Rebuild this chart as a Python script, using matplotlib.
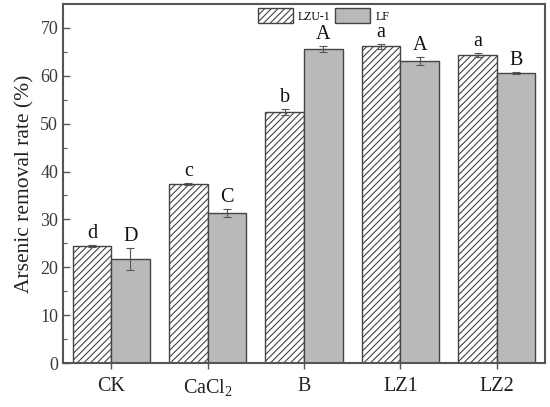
import numpy as np
import matplotlib
matplotlib.use("Agg")
import matplotlib.pyplot as plt

plt.rcParams['font.family'] = ['Liberation Serif', 'DejaVu Serif']
plt.rcParams['mathtext.fontset'] = 'custom'
plt.rcParams['mathtext.rm'] = 'Liberation Serif'
plt.rcParams['mathtext.it'] = 'Liberation Serif:italic'
plt.rcParams['hatch.color'] = '#555555'
plt.rcParams['hatch.linewidth'] = 0.8

# data
groups = ['CK', 'CaCl$_\\mathrm{2}$', 'B', 'LZ1', 'LZ2']
lzu1 = [24.4, 37.3, 52.5, 66.2, 64.3]
lzu1_err = [0.2, 0.2, 0.6, 0.5, 0.45]
lf = [21.7, 31.4, 65.6, 63.1, 60.6]
lf_err = [2.3, 0.8, 0.7, 0.9, 0.15]
lzu1_letters = ['d', 'c', 'b', 'a', 'a']
lf_letters = ['D', 'C', 'A', 'A', 'B']

x = np.arange(1, len(groups) + 1)
w = 0.4
edge = '#444444'

fig = plt.figure(figsize=(5.5, 4.07), dpi=100)
ax = fig.add_axes([63/550, 1-363/407, 482/550, 359/407])

ax.bar(x - w/2, lzu1, w, color='white', edgecolor=edge, linewidth=1.0,
       hatch='/////', label='LZU-1')
ax.bar(x + w/2, lf, w, color='#b9b9b9', edgecolor=edge, linewidth=1.0,
       label='LF')
ax.errorbar(x - w/2, lzu1, yerr=lzu1_err, fmt='none', ecolor='#555555',
            elinewidth=0.8, capsize=3, capthick=0.8)
ax.errorbar(x + w/2, lf, yerr=lf_err, fmt='none', ecolor='#555555',
            elinewidth=0.8, capsize=3, capthick=0.8)

for xi, v, e, t in zip(x - w/2, lzu1, lzu1_err, lzu1_letters):
    ax.annotate(t, (xi, v + e), xytext=(0, 1.5), textcoords='offset points',
                ha='center', va='bottom', fontsize=14.5, color='#111111')
for xi, v, e, t in zip(x + w/2, lf, lf_err, lf_letters):
    ax.annotate(t, (xi, v + e), xytext=(0, 1.5), textcoords='offset points',
                ha='center', va='bottom', fontsize=14.5, color='#111111')

ax.set_xlim(0.5, 5.5)
ax.set_ylim(0, 75)
ax.set_xticks(x)
ax.set_xticklabels(groups, fontsize=14.5, color='#222222')
ax.set_yticks(np.arange(0, 71, 10))
ax.set_yticks(np.arange(5, 75, 10), minor=True)
ax.tick_params(axis='y', direction='in', length=5, width=1, labelsize=13,
               labelcolor='#3a3a3a', color='#555555')
ax.tick_params(axis='y', which='minor', direction='in', length=3, width=0.8,
               color='#555555')
ax.tick_params(axis='x', direction='out', length=4, width=1, color='#555555',
               pad=6)
for s in ax.spines.values():
    s.set_color('#555555')
    s.set_linewidth(1.5)

ax.set_ylabel('Arsenic removal rate (%)', fontsize=15.5, color='#222222',
              labelpad=4)

ax.legend(loc='center', bbox_to_anchor=(0.54, 0.967), ncol=2, frameon=False,
          fontsize=8.5, handlelength=3.0, handleheight=1.6, columnspacing=0.4,
          handletextpad=0.4, borderpad=0)

fig.savefig('out.png', dpi=100)
